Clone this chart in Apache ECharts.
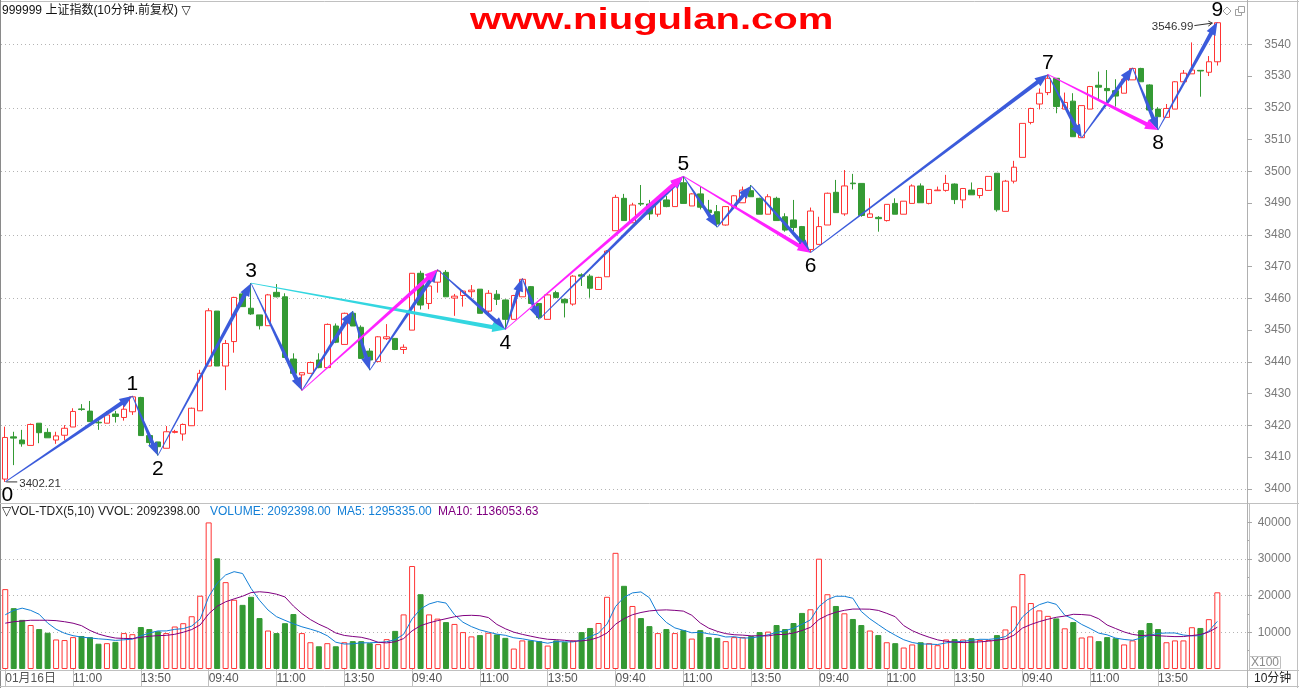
<!DOCTYPE html>
<html><head><meta charset="utf-8">
<script src="https://cdn.jsdelivr.net/npm/echarts@6/dist/echarts.min.js"></script>
<style>html,body{margin:0;padding:0;background:#fff;}#c{width:1299px;height:688px;}</style>
</head><body><div id="c"></div>
<script>
// ---------------- DATA ----------------
const open = [
3403.1,3416.4,3415.4,3413.7,3420.7,3417.8,3415.4,3416.9,3419.5,3425.2,3424.5,3421.0,3420.7,3423.6,3422.5,3424.3,3428.8,3416.8,3414.8,3412.8,3417.8,3417.3,3419.9,3424.6,
3438.7,3456.0,3438.7,3446.4,3461.4,3456.9,3454.8,3451.4,3461.9,3460.5,3440.9,3435.9,3436.4,3440.6,3438.2,3451.3,3445.5,3455.3,3450.9,3443.4,3440.1,3447.3,3447.4,3443.9,
3450.0,3467.9,3458.4,3465.1,3468.2,3460.1,3460.9,3462.1,3462.9,3456.0,3461.3,3459.5,3453.4,3460.5,3463.7,3458.4,3453.4,3461.8,3459.7,3458.2,3467.4,3467.0,3462.8,3466.8,
3481.3,3491.5,3483.8,3489.9,3489.7,3486.5,3491.0,3488.9,3496.4,3489.1,3492.9,3487.8,3487.3,3483.1,3488.7,3490.1,3493.9,3491.5,3486.5,3491.5,3485.7,3484.7,3482.6,3475.4,
3477.0,3483.1,3493.4,3486.6,3496.3,3496.2,3485.5,3485.5,3484.5,3489.9,3486.5,3489.9,3495.4,3489.9,3493.9,3494.0,3496.0,3491.0,3494.1,3492.4,3494.0,3499.4,3487.4,3496.9,
3504.4,3515.4,3521.2,3524.8,3529.3,3519.6,3522.1,3510.6,3519.6,3527.1,3526.1,3525.4,3524.6,3528.8,3532.4,3527.2,3519.6,3517.0,3519.6,3528.2,3530.7,3531.8,3531.2,3534.5];
const close = [
3416.2,3416.0,3414.2,3420.3,3417.7,3416.1,3416.7,3419.1,3424.4,3425.0,3421.2,3420.8,3423.3,3422.8,3425.1,3429.0,3416.8,3414.6,3413.3,3418.0,3418.1,3420.3,3425.4,3436.4,
3456.1,3438.7,3445.8,3460.3,3457.4,3455.1,3451.4,3461.1,3460.5,3441.4,3436.4,3436.6,3439.8,3438.2,3451.8,3446.2,3455.3,3451.3,3441.1,3440.6,3447.9,3447.9,3443.9,3444.6,
3467.9,3457.9,3463.9,3468.6,3460.5,3460.7,3462.3,3462.6,3455.3,3461.6,3459.7,3453.4,3460.9,3466.0,3458.4,3454.0,3461.1,3460.3,3458.6,3467.0,3467.0,3463.2,3466.6,3474.9,
3491.8,3484.5,3489.4,3489.7,3486.6,3490.5,3488.9,3496.2,3489.9,3492.9,3488.7,3487.0,3483.4,3488.9,3492.3,3494.1,3492.0,3486.5,3492.0,3484.5,3481.5,3482.3,3476.3,3487.5,
3482.6,3493.1,3487.0,3495.4,3496.1,3486.1,3486.6,3485.1,3489.6,3486.5,3490.6,3495.4,3490.1,3494.3,3494.1,3496.2,3491.1,3494.6,3492.6,3494.6,3498.4,3487.9,3496.9,3501.3,
3515.1,3519.8,3524.6,3529.3,3520.4,3521.7,3510.9,3520.7,3526.7,3526.5,3525.4,3523.7,3529.0,3532.4,3528.2,3519.3,3517.2,3519.8,3528.2,3530.9,3531.9,3531.6,3534.5,3546.8];
const low = [
3402.21,3407.5,3413.3,3413.7,3414.4,3416.1,3414.2,3415.4,3419.5,3424.6,3421.2,3418.6,3420.7,3420.9,3421.5,3423.3,3416.8,3413.8,3410.5,3412.8,3417.5,3415.2,3419.9,3424.6,
3438.7,3438.7,3431.1,3442.9,3457.4,3454.8,3450.2,3451.4,3460.3,3441.4,3436.4,3431.0,3436.4,3438.0,3438.2,3445.9,3445.5,3451.3,3441.1,3437.4,3440.1,3446.9,3443.7,3442.5,
3450.0,3456.5,3456.6,3461.8,3460.5,3454.5,3457.4,3460.3,3455.3,3455.3,3457.9,3450.2,3453.4,3460.5,3458.2,3453.4,3453.4,3460.0,3454.0,3457.7,3463.9,3460.2,3462.8,3466.8,
3481.3,3484.5,3483.8,3489.1,3484.7,3485.7,3488.7,3488.9,3489.9,3489.1,3488.0,3485.7,3482.4,3482.9,3488.7,3490.1,3492.0,3486.5,3486.5,3484.5,3481.0,3479.6,3475.5,3474.4,
3477.0,3483.1,3487.0,3486.0,3494.3,3485.7,3485.5,3481.0,3484.2,3486.5,3486.5,3489.9,3490.1,3489.6,3493.9,3493.6,3489.7,3488.4,3492.6,3491.5,3494.0,3487.3,3487.4,3496.2,
3504.4,3514.8,3519.5,3524.0,3518.3,3519.6,3510.9,3510.6,3519.6,3522.4,3521.9,3520.4,3524.6,3528.8,3528.2,3519.3,3513.0,3517.0,3519.6,3528.2,3530.7,3523.5,3530.0,3533.3];
const high = [
3419.6,3418.0,3418.6,3420.6,3420.7,3419.1,3418.0,3420.1,3425.4,3426.7,3427.7,3421.7,3424.5,3424.6,3426.4,3429.3,3429.0,3416.8,3414.8,3419.8,3418.6,3420.6,3425.6,3437.5,
3456.9,3456.0,3446.9,3460.5,3462.0,3464.8,3454.8,3461.4,3464.5,3461.6,3442.7,3436.6,3440.1,3442.7,3452.1,3452.1,3455.5,3456.0,3451.5,3444.3,3448.1,3451.9,3447.4,3445.5,
3467.9,3468.7,3464.2,3469.1,3468.9,3461.4,3462.6,3464.2,3462.9,3462.6,3462.6,3459.7,3461.1,3466.3,3463.9,3458.4,3461.3,3462.4,3460.0,3467.3,3467.9,3467.6,3466.8,3475.2,
3492.6,3492.9,3490.1,3495.7,3491.0,3492.0,3492.2,3496.4,3498.5,3493.1,3495.2,3491.0,3489.4,3489.1,3492.5,3495.2,3495.7,3491.7,3492.8,3492.0,3486.8,3491.0,3482.8,3488.6,
3485.7,3493.3,3497.3,3500.4,3499.2,3496.2,3491.5,3485.9,3489.6,3491.5,3490.6,3495.9,3496.2,3494.3,3495.2,3498.9,3496.2,3494.6,3496.5,3494.6,3498.4,3499.4,3497.3,3503.3,
3515.1,3520.0,3526.1,3530.5,3529.3,3524.8,3524.6,3520.7,3526.9,3531.4,3531.9,3529.0,3529.3,3532.6,3532.6,3527.4,3520.2,3521.2,3528.4,3531.9,3540.6,3531.8,3536.3,3546.99];
// volume in units of 100 shares (axis "X100")
const volume = [
21800,16600,13400,12000,10900,9900,8060,7900,8700,9000,8700,6900,7050,7400,9800,9500,11450,10900,10300,9800,11600,12500,14400,20000,
40000,30200,23700,18900,17500,19700,13900,10500,9800,12500,15000,9800,7300,6200,7050,6200,7300,7600,7600,7050,6800,8150,10400,14900,
28100,20400,14900,13750,12800,12300,10070,8900,9250,9900,9430,8500,5580,7800,7800,7600,6400,7800,7400,7800,10070,11200,12550,19700,
31700,22700,17200,13900,11700,9800,10900,9800,10600,8300,10600,8700,8500,7600,8700,8700,9000,10070,10200,12000,10900,12550,15300,16300,
30100,20400,17200,15200,13650,12000,10500,9250,7300,7050,5860,6700,7300,7050,6500,8060,8150,8060,8400,7900,7900,9250,10800,17100,
25900,18000,16000,14500,13800,11100,12800,8600,8900,7600,8700,8400,6700,7800,10600,12550,10900,7300,7800,7800,11400,11200,13600,20924];
// MA values before a full window exists
const ma5Head = [14800,16000,16600,16000];
const ma10Head = [12500,12900,13100,13300,13300,13300,13200,12900,12500];
// x-axis tick labels, one every 8 bars
const tickLabels = ['01月16日','11:00','13:50','09:40','11:00','13:50','09:40','11:00','13:50',
                    '09:40','11:00','13:50','09:40','11:00','13:50','09:40','11:00','13:50'];
const priceLabels = [3400,3410,3420,3430,3440,3450,3460,3470,3480,3490,3500,3510,3520,3530,3540];
const priceGrid = [3400,3420,3440,3460,3480,3500,3520,3540];
const volLabels = [10000,20000,30000,40000];
const volMinor = [5000,15000,25000,35000];
const volGrid = [10000,20000,30000];
// wave points: [barIndex, price, side(1 below / -1 above)]
const wavePoints = [[0,3402.21,1],[15,3429.3,-1],[18,3410.5,1],[29,3464.8,-1],[59,3450.2,1],
                    [80,3498.5,-1],[95,3474.4,1],[123,3530.5,-1],[136,3513.0,1],[143,3546.99,-1]];
const waveNames = ['0','1','2','3','4','5','6','7','8','9'];
// drawn arrows: [fromIndex, fromPrice, toIndex, toPrice]
const blueLegs = [
 [0,3402.21,15,3429.3],[15,3429.3,18,3410.5],[18,3410.5,29,3464.8],[29,3464.8,35,3431.0],
 [35,3431.0,41,3456.0],[41,3456.0,43,3437.4],[43,3437.4,51,3469.1],[51,3469.1,59,3450.2],
 [59,3450.2,61,3466.3],[61,3466.3,63,3453.4],[63,3453.4,80,3498.5],[80,3498.5,84,3482.4],
 [84,3482.4,88,3495.5],[88,3495.5,95,3474.4],[95,3474.4,123,3530.5],[123,3530.5,127,3510.6],
 [127,3510.6,133,3532.6],[133,3532.6,136,3513.0],[136,3513.0,143,3546.99]];
const magentaLegs = [[35,3431.0,51,3469.1],[59,3450.2,80,3498.5],[80,3498.5,95,3474.4],[123,3530.5,136,3513.0]];
const cyanLegs = [[29,3464.8,59,3450.2]];
// marked extremes: [barIndex, price, side]
const extremes = [[0,3402.21,1],[143,3546.99,-1]];

// ---------------- CHART ----------------
const FONT = '"Liberation Sans","DejaVu Sans","Noto Sans CJK SC",sans-serif';
const RED = '#ff3434', GREEN = '#349a34';
const nBars = open.length;
const cats = [];
for (let i = 0; i < nBars + 3; i++) cats.push(String(i));

function movingAvg(vals, n, head) {
  return vals.map((v, i) => {
    if (i < n - 1) return head[i];
    let s = 0;
    for (let k = i - n + 1; k <= i; k++) s += vals[k];
    return Math.round(s / n);
  });
}
const candleData = open.map((o, i) => [o, close[i], low[i], high[i]]);
const volData = volume.map((v, i) => {
  const up = close[i] >= open[i];
  return { value: v, itemStyle: up ? { color: '#ffffff', borderColor: RED, borderWidth: 1 }
                                   : { color: GREEN, borderColor: GREEN, borderWidth: 1 } };
});

function arrowRenderer(color) {
  return function (params, api) {
    const a = api.coord([api.value(0), api.value(1)]);
    const b = api.coord([api.value(2), api.value(3)]);
    const dx = b[0] - a[0], dy = b[1] - a[1];
    const len = Math.sqrt(dx * dx + dy * dy) || 1;
    const ux = dx / len, uy = dy / len, nx = -uy, ny = ux;
    const head = Math.min(13, len * 0.4), hw = 5;
    const w0 = 0.4, w1 = 2.1;
    const sx = b[0] - ux * head * 0.7, sy = b[1] - uy * head * 0.7;
    const hx = b[0] - ux * head, hy = b[1] - uy * head;
    return { type: 'group', children: [
      { type: 'polygon', shape: { points: [[a[0] + nx * w0, a[1] + ny * w0], [sx + nx * w1, sy + ny * w1],
                                            [sx - nx * w1, sy - ny * w1], [a[0] - nx * w0, a[1] - ny * w0]] },
        style: { fill: color } },
      { type: 'polygon', shape: { points: [[b[0], b[1]], [hx + nx * hw, hy + ny * hw], [hx - nx * hw, hy - ny * hw]] },
        style: { fill: color } }
    ]};
  };
}
function legSeries(name, legs, color) {
  return { name, type: 'custom', xAxisIndex: 0, yAxisIndex: 0, clip: true, silent: true,
           encode: { x: [0, 2], y: [1, 3] }, data: legs, renderItem: arrowRenderer(color), z: 5 };
}

const chart = echarts.init(document.getElementById('c'), null, { renderer: 'canvas' });
const axisLabelFmt = v => String(v);
const lineG = (x1, y1, x2, y2, c) => ({ type: 'line', silent: true, shape: { x1, y1, x2, y2 }, style: { stroke: c || '#c0c0c0', lineWidth: 1 } });

chart.setOption({
  animation: false,
  backgroundColor: '#ffffff',
  grid: [
    { left: 1, right: 52, top: 2, height: 501, show: false },
    { left: 1, right: 52, top: 503, height: 166, show: false }
  ],
  xAxis: [
    { type: 'category', gridIndex: 0, data: cats, boundaryGap: true, position: 'bottom',
      axisLine: { show: false }, axisTick: { show: false }, axisLabel: { show: false }, splitLine: { show: false } },
    { type: 'category', gridIndex: 1, data: cats, boundaryGap: true, position: 'bottom',
      axisLine: { show: false },
      axisTick: { show: true, alignWithLabel: true, length: 17, interval: (i) => i % 8 === 0 && i < nBars,
                  lineStyle: { color: '#c0c0c0' } },
      axisLabel: { show: true, interval: (i) => i % 8 === 0 && i < nBars, formatter: (v, i) => tickLabels[i / 8],
                   align: 'left', margin: 4, color: '#555', fontSize: 12, fontFamily: FONT },
      splitLine: { show: false } }
  ],
  yAxis: [
    { type: 'value', gridIndex: 0, position: 'right', min: 3395.57, max: 3553.32, scale: true,
      axisLine: { show: false },
      axisTick: { show: true, length: 5, customValues: priceLabels, lineStyle: { color: '#a8a8a8' } },
      axisLabel: { customValues: priceLabels, formatter: axisLabelFmt, align: 'right', margin: 44,
                   color: '#7a7a7a', fontSize: 12, fontFamily: FONT },
      splitLine: { show: false } },
    { type: 'value', gridIndex: 0, position: 'right', min: 3395.57, max: 3553.32, scale: true,
      axisLine: { show: false }, axisLabel: { show: false },
      axisTick: { show: false, customValues: priceGrid },
      splitLine: { show: true, lineStyle: { color: '#b4b4b4', type: [1, 3], width: 1 } } },
    { type: 'value', gridIndex: 1, position: 'right', min: 0, max: 45300,
      axisLine: { show: false },
      axisTick: { show: true, length: 5, customValues: volLabels, lineStyle: { color: '#a8a8a8' } },
      axisLabel: { customValues: volLabels, formatter: axisLabelFmt, align: 'right', margin: 44,
                   color: '#7a7a7a', fontSize: 12, fontFamily: FONT },
      splitLine: { show: false } },
    { type: 'value', gridIndex: 1, position: 'right', min: 0, max: 45300,
      axisLine: { show: false }, axisLabel: { show: false },
      axisTick: { show: true, length: 2, customValues: volMinor, lineStyle: { color: '#a8a8a8' } },
      splitLine: { show: false } },
    { type: 'value', gridIndex: 1, position: 'right', min: 0, max: 45300,
      axisLine: { show: false }, axisLabel: { show: false },
      axisTick: { show: false, customValues: volGrid },
      splitLine: { show: true, lineStyle: { color: '#b4b4b4', type: [1, 3], width: 1 } } }
  ],
  series: [
    { name: 'K', type: 'candlestick', xAxisIndex: 0, yAxisIndex: 0, data: candleData, barWidth: 6,
      itemStyle: { color: '#ffffff', color0: GREEN, borderColor: RED, borderColor0: GREEN, borderWidth: 1 } },
    { name: 'VOL', type: 'bar', xAxisIndex: 1, yAxisIndex: 2, data: volData, barWidth: 6 },
    { name: 'MA5', type: 'line', xAxisIndex: 1, yAxisIndex: 2, data: movingAvg(volume, 5, ma5Head),
      showSymbol: false, symbol: 'none', lineStyle: { color: '#137fd6', width: 1 }, z: 4 },
    { name: 'MA10', type: 'line', xAxisIndex: 1, yAxisIndex: 2, data: movingAvg(volume, 10, ma10Head),
      showSymbol: false, symbol: 'none', lineStyle: { color: '#800080', width: 1 }, z: 4 },
    legSeries('blue', blueLegs, '#3b5bdb'),
    legSeries('cyan', cyanLegs, '#33d6e0'),
    legSeries('magenta', magentaLegs, '#ff22ff'),
    { name: 'waveLabels', type: 'custom', xAxisIndex: 0, yAxisIndex: 0, clip: true, silent: true, z: 6,
      encode: { x: 0, y: 1 }, data: wavePoints,
      renderItem: function (params, api) {
        const p = api.coord([api.value(0), api.value(1)]);
        const side = api.value(2);
        return { type: 'text', x: p[0] + (params.dataIndex === 0 ? 2 : 0), y: p[1] + (side > 0 ? 13.5 : -11.5),
                 style: { text: waveNames[params.dataIndex], font: '21px ' + FONT, fill: '#000',
                          align: 'center', verticalAlign: 'middle' } };
      } },
    { name: 'extremes', type: 'custom', xAxisIndex: 0, yAxisIndex: 0, clip: false, silent: true, z: 6,
      encode: { x: 0, y: 1 }, data: extremes,
      renderItem: function (params, api) {
        const p = api.coord([api.value(0), api.value(1)]);
        const side = api.value(2);
        const txt = api.value(1).toFixed(2);
        if (side > 0) {
          return { type: 'group', children: [
            { type: 'line', shape: { x1: p[0] + 1, y1: p[1], x2: p[0] + 12, y2: p[1] }, style: { stroke: '#333', lineWidth: 1 } },
            { type: 'text', x: p[0] + 14, y: p[1] + 1.5, style: { text: txt, font: '11.5px ' + FONT, fill: '#333', align: 'left', verticalAlign: 'middle' } }
          ]};
        }
        return { type: 'group', children: [
          { type: 'line', shape: { x1: p[0] - 23, y1: p[1] + 3.5, x2: p[0] - 5, y2: p[1] + 1 }, style: { stroke: '#333', lineWidth: 1 } },
          { type: 'polyline', shape: { points: [[p[0] - 9, p[1] - 1], [p[0] - 5, p[1] + 1], [p[0] - 9, p[1] + 4]] }, style: { stroke: '#333', lineWidth: 1, fill: null } },
          { type: 'text', x: p[0] - 24, y: p[1] + 5, style: { text: txt, font: '11.5px ' + FONT, fill: '#333', align: 'right', verticalAlign: 'middle' } }
        ]};
      } }
  ],
  graphic: [
    lineG(0, 1.5, 1299, 1.5),
    lineG(0.5, 0, 0.5, 688, '#8a8a8a'),
    lineG(0, 503.5, 1299, 503.5),
    lineG(0, 670.5, 1299, 670.5),
    lineG(0, 686.5, 1299, 686.5),
    lineG(1247.5, 0, 1247.5, 688, '#b0b0b0'),
    lineG(1249.5, 503.5, 1249.5, 670.5),
    lineG(1297.5, 0, 1297.5, 688),
    { type: 'text', x: 2, y: 10.5, silent: true,
      style: { text: '999999 上证指数(10分钟.前复权) ▽', font: '12px ' + FONT, fill: '#111', verticalAlign: 'middle' } },
    { type: 'text', x: 470, y: 21, scaleX: 1.335, silent: true,
      style: { text: 'www.niugulan.com', font: 'bold 30px "Liberation Sans"', fill: '#ff0000', verticalAlign: 'middle' } },
    { type: 'polygon', silent: true, shape: { points: [[1227, 7], [1231, 11], [1227, 15], [1223, 11]] }, style: { fill: null, stroke: '#a0a0a0' } },
    { type: 'rect', silent: true, shape: { x: 1235.5, y: 9.5, width: 6, height: 6 }, style: { fill: '#fff', stroke: '#a0a0a0' } },
    { type: 'rect', silent: true, shape: { x: 1238.5, y: 6.5, width: 6, height: 6 }, style: { fill: '#fff', stroke: '#a0a0a0' } },
    { type: 'text', x: 2, y: 511.5, silent: true, style: { text: '▽VOL-TDX(5,10) VVOL: 2092398.00', font: '12px ' + FONT, fill: '#222', verticalAlign: 'middle' } },
    { type: 'text', x: 210, y: 511.5, silent: true, style: { text: 'VOLUME: 2092398.00', font: '12px ' + FONT, fill: '#137fd6', verticalAlign: 'middle' } },
    { type: 'text', x: 337, y: 511.5, silent: true, style: { text: 'MA5: 1295335.00', font: '12px ' + FONT, fill: '#137fd6', verticalAlign: 'middle' } },
    { type: 'text', x: 438, y: 511.5, silent: true, style: { text: 'MA10: 1136053.63', font: '12px ' + FONT, fill: '#800080', verticalAlign: 'middle' } },
    { type: 'rect', silent: true, shape: { x: 1249.5, y: 656.5, width: 31, height: 12 }, style: { fill: '#fff', stroke: '#c0c0c0' } },
    { type: 'text', x: 1251, y: 663, silent: true, style: { text: 'X100', font: '12px ' + FONT, fill: '#8a8a8a', verticalAlign: 'middle' } },
    { type: 'text', x: 1254, y: 679, silent: true, style: { text: '10分钟', font: '12px ' + FONT, fill: '#222', verticalAlign: 'middle' } }
  ]
});
</script></body></html>
